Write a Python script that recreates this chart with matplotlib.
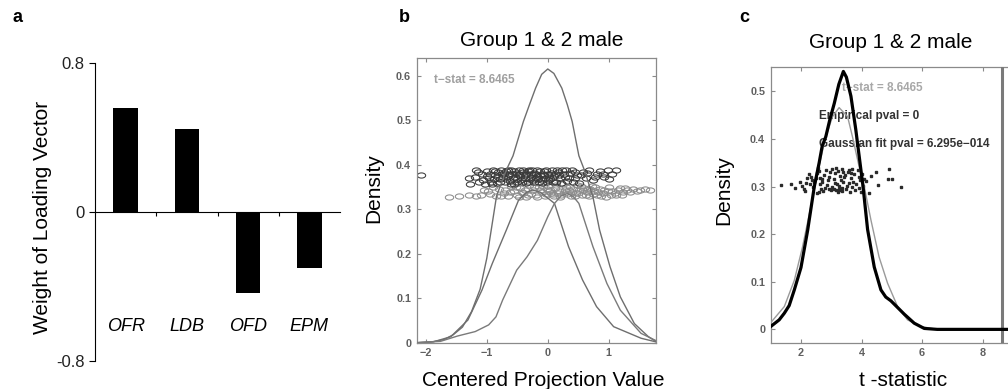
import numpy as np
import matplotlib.pyplot as plt
from matplotlib.path import Path

plt.rcParams['font.family'] = ['Liberation Sans', 'DejaVu Sans']

# ---- panel a data ----
categories = ['OFR', 'LDB', 'OFD', 'EPM']
loading = [0.558, 0.446, -0.435, -0.303]

# ---- panel b data (projection densities) ----
overall_x = [-2.15, -1.9, -1.7, -1.55, -1.4, -1.25, -1.11, -1.0, -0.84, -0.68, -0.57, -0.40, -0.3, -0.2,
             -0.1, 0.0, 0.1, 0.23, 0.32, 0.40, 0.51, 0.60, 0.74, 0.85, 1.02, 1.19, 1.42, 1.65, 1.77]
overall_y = [0.0, 0.002, 0.007, 0.018, 0.035, 0.07, 0.12, 0.19, 0.33, 0.388, 0.42, 0.497, 0.535, 0.572,
             0.603, 0.615, 0.605, 0.572, 0.535, 0.497, 0.42, 0.388, 0.328, 0.253, 0.171, 0.103, 0.043, 0.0135, 0.003]

group1_x = [-2.15, -1.875, -1.59, -1.31, -1.08, -0.91, -0.68, -0.48, -0.35, -0.25, -0.12, 0.11, 0.34, 0.57,
            0.80, 1.08, 1.53, 1.77]
group1_y = [0.0, 0.002, 0.0135, 0.051, 0.118, 0.178, 0.253, 0.32, 0.338, 0.343, 0.338, 0.313, 0.216, 0.141,
            0.081, 0.036, 0.01, 0.002]

group2_x = [-2.15, -1.76, -1.48, -1.19, -0.97, -0.85, -0.74, -0.51, -0.34, -0.17, 0.0, 0.11, 0.22, 0.32,
            0.42, 0.51, 0.74, 0.97, 1.19, 1.53, 1.77]
group2_y = [0.0, 0.003, 0.015, 0.025, 0.04, 0.058, 0.096, 0.163, 0.193, 0.23, 0.283, 0.313, 0.33, 0.335,
            0.328, 0.313, 0.216, 0.133, 0.073, 0.021, 0.005]

group1_pts = [(-2.08, 0.376), (-1.30, 0.369), (-1.27, 0.357), (-1.18, 0.388), (-1.12, 0.362), (-1.08, 0.378),
              (-1.03, 0.356), (-0.99, 0.386), (-0.96, 0.370), (-0.93, 0.361), (-0.90, 0.389), (-0.87, 0.376),
              (-0.84, 0.358), (-0.81, 0.383), (-0.78, 0.367), (-0.76, 0.389), (-0.73, 0.372), (-0.70, 0.360),
              (-0.68, 0.385), (-0.65, 0.375), (-0.62, 0.364), (-0.60, 0.388), (-0.57, 0.370), (-0.55, 0.357),
              (-0.52, 0.381), (-0.50, 0.367), (-0.47, 0.388), (-0.45, 0.374), (-0.42, 0.361), (-0.40, 0.384),
              (-0.37, 0.369), (-0.35, 0.379), (-0.32, 0.362), (-0.30, 0.387), (-0.27, 0.372), (-0.25, 0.365),
              (-0.22, 0.382), (-0.20, 0.370), (-0.17, 0.389), (-0.15, 0.360), (-0.12, 0.377), (-0.10, 0.366),
              (-0.07, 0.385), (-0.05, 0.371), (-0.02, 0.362), (0.01, 0.380), (0.04, 0.368), (0.07, 0.388),
              (0.10, 0.374), (0.13, 0.360), (0.16, 0.383), (0.20, 0.369), (0.24, 0.387), (0.28, 0.372),
              (0.32, 0.363), (0.36, 0.381), (0.40, 0.388), (0.44, 0.369), (0.48, 0.377), (0.52, 0.359),
              (0.57, 0.384), (0.62, 0.371), (0.68, 0.389), (0.74, 0.365), (0.80, 0.380), (0.86, 0.386),
              (0.92, 0.372), (0.98, 0.388), (1.05, 0.378), (1.12, 0.387), (-0.88, 0.368), (-0.63, 0.379),
              (-0.38, 0.376), (-0.18, 0.374), (0.02, 0.374), (-0.53, 0.373), (-0.28, 0.380), (-0.08, 0.379),
              (0.18, 0.376), (-0.72, 0.381), (0.45, 0.384),
              (-1.20, 0.372), (-1.14, 0.383), (-1.06, 0.366), (-1.00, 0.375), (-0.95, 0.380), (-0.91, 0.357),
              (-0.86, 0.385), (-0.82, 0.372), (-0.79, 0.360), (-0.75, 0.378), (-0.69, 0.368), (-0.66, 0.388),
              (-0.61, 0.357), (-0.58, 0.380), (-0.56, 0.386), (-0.51, 0.361), (-0.48, 0.378), (-0.44, 0.366),
              (-0.41, 0.389), (-0.36, 0.358), (-0.33, 0.386), (-0.29, 0.368), (-0.26, 0.389), (-0.23, 0.361),
              (-0.19, 0.380), (-0.16, 0.368), (-0.13, 0.386), (-0.09, 0.358), (-0.06, 0.376), (-0.03, 0.389),
              (0.00, 0.366), (0.05, 0.382), (0.08, 0.361), (0.12, 0.378), (0.15, 0.389), (0.22, 0.358),
              (0.26, 0.379), (0.30, 0.389), (0.34, 0.371), (0.42, 0.361), (0.55, 0.376), (0.65, 0.382),
              (0.77, 0.373), (0.90, 0.380), (1.00, 0.368)]

group2_pts = [(-1.62, 0.328), (-1.45, 0.330), (-1.30, 0.331), (-1.18, 0.329), (-1.05, 0.343), (-0.95, 0.334),
              (-0.85, 0.330), (-0.80, 0.346), (-0.72, 0.336), (-0.65, 0.329), (-0.60, 0.352), (-0.55, 0.340),
              (-0.50, 0.331), (-0.45, 0.347), (-0.40, 0.336), (-0.35, 0.328), (-0.30, 0.355), (-0.25, 0.342),
              (-0.20, 0.332), (-0.15, 0.349), (-0.10, 0.338), (-0.05, 0.329), (0.00, 0.353), (0.04, 0.343),
              (0.08, 0.333), (0.12, 0.348), (0.16, 0.337), (0.20, 0.328), (0.24, 0.356), (0.28, 0.344),
              (0.32, 0.333), (0.36, 0.350), (0.40, 0.339), (0.44, 0.329), (0.48, 0.354), (0.52, 0.343),
              (0.56, 0.332), (0.60, 0.348), (0.64, 0.338), (0.68, 0.329), (0.72, 0.352), (0.76, 0.341),
              (0.80, 0.331), (0.85, 0.346), (0.90, 0.336), (0.95, 0.328), (1.00, 0.350), (1.06, 0.340),
              (1.12, 0.331), (1.18, 0.347), (1.24, 0.338), (1.30, 0.344), (1.40, 0.345), (1.52, 0.343),
              (1.68, 0.343), (-0.42, 0.338), (-0.12, 0.344), (0.18, 0.341), (0.46, 0.336), (0.70, 0.345),
              (-0.28, 0.334), (0.05, 0.337), (0.34, 0.342), (0.58, 0.344), (-0.70, 0.342), (0.92, 0.342),
              (1.10, 0.336), (-0.02, 0.346), (0.26, 0.336),
              (-1.10, 0.332), (-0.98, 0.340), (-0.90, 0.349), (-0.77, 0.329), (-0.62, 0.338), (-0.52, 0.350),
              (-0.47, 0.328), (-0.37, 0.344), (-0.32, 0.331), (-0.22, 0.349), (-0.18, 0.328), (-0.08, 0.352),
              (-0.03, 0.333), (0.02, 0.340), (0.10, 0.329), (0.14, 0.355), (0.22, 0.332), (0.30, 0.350),
              (0.38, 0.330), (0.42, 0.346), (0.50, 0.336), (0.54, 0.352), (0.62, 0.331), (0.66, 0.346),
              (0.74, 0.334), (0.78, 0.350), (0.83, 0.338), (0.88, 0.329), (0.98, 0.340), (1.03, 0.332),
              (1.15, 0.343), (1.21, 0.331), (1.27, 0.348), (1.35, 0.338), (1.46, 0.340), (1.60, 0.346)]

# ---- panel c data (permutation t-statistics) ----
kde_x = [1.0, 1.28, 1.45, 1.61, 1.78, 2.0, 2.22, 2.44, 2.6, 2.7, 2.82, 2.95, 3.1, 3.25, 3.4, 3.5, 3.65,
         3.81, 3.95, 4.05, 4.2, 4.42, 4.64, 4.80, 4.97, 5.19, 5.41, 5.74, 6.07, 6.5, 9.3]
kde_y = [0.006, 0.02, 0.034, 0.05, 0.083, 0.13, 0.208, 0.30, 0.35, 0.385, 0.405, 0.44, 0.475, 0.515, 0.542,
         0.53, 0.49, 0.42, 0.35, 0.30, 0.21, 0.131, 0.083, 0.068, 0.060, 0.046, 0.032, 0.013, 0.002, 0.0, 0.0]

gauss_x = [1.0, 1.45, 1.78, 2.05, 2.3, 2.55, 2.8, 3.04, 3.26, 3.54, 3.70, 3.92, 4.09, 4.31, 4.58, 4.86,
           5.19, 5.52, 5.96, 6.5, 7.0]
gauss_y = [0.014, 0.048, 0.103, 0.173, 0.25, 0.33, 0.40, 0.447, 0.466, 0.447, 0.405, 0.342, 0.30, 0.23,
           0.152, 0.097, 0.048, 0.02, 0.006, 0.0, 0.0]

perm_pts = [(1.34, 0.303), (1.67, 0.305), (1.97, 0.310), (2.05, 0.301), (2.11, 0.296), (2.16, 0.307),
            (2.25, 0.326), (2.33, 0.321), (2.36, 0.314), (2.44, 0.310), (2.52, 0.328), (2.52, 0.287),
            (2.58, 0.289), (2.63, 0.305), (2.66, 0.296), (2.71, 0.317), (2.74, 0.291), (2.77, 0.324),
            (2.82, 0.335), (2.85, 0.303), (2.91, 0.321), (2.93, 0.294), (3.04, 0.300), (3.13, 0.328),
            (3.18, 0.305), (3.21, 0.289), (3.26, 0.296), (3.32, 0.314), (3.37, 0.338), (3.43, 0.321),
            (3.46, 0.324), (3.51, 0.301), (3.57, 0.335), (3.59, 0.307), (3.62, 0.289), (3.65, 0.328),
            (3.70, 0.338), (3.73, 0.310), (3.79, 0.293), (3.87, 0.335), (3.92, 0.321), (3.95, 0.314),
            (3.98, 0.289), (4.09, 0.317), (4.14, 0.312), (4.25, 0.287), (4.47, 0.331), (4.53, 0.303),
            (4.91, 0.337), (4.89, 0.317), (4.99, 0.317), (5.30, 0.300), (2.40, 0.300), (2.48, 0.318),
            (2.60, 0.332), (2.68, 0.310), (2.80, 0.298), (2.88, 0.313), (2.96, 0.330), (3.00, 0.292),
            (3.08, 0.316), (3.10, 0.296), (3.16, 0.293), (3.22, 0.333), (3.24, 0.302), (3.28, 0.292),
            (3.30, 0.322), (3.34, 0.297), (3.40, 0.309), (3.48, 0.295), (3.54, 0.331), (3.66, 0.318),
            (3.76, 0.327), (3.83, 0.305), (3.90, 0.297), (4.02, 0.326), (4.05, 0.301), (2.30, 0.305),
            (2.20, 0.318), (2.57, 0.340), (3.15, 0.340), (3.38, 0.330), (3.02, 0.336), (2.14, 0.291),
            (2.62, 0.318), (3.12, 0.308), (3.35, 0.291), (3.68, 0.299), (4.30, 0.322), (1.80, 0.298)]
t_stat = 8.6465

W, H = 1008, 389


def px_rect(left, top, right, bottom):
    return [left / W, 1 - bottom / H, (right - left) / W, (bottom - top) / H]


def matlab_style(ax, xticks, yticks, xlabels, ylabels):
    for s in ax.spines.values():
        s.set_color('#8a8a8a')
        s.set_linewidth(0.9)
    ax.tick_params(direction='in', top=True, right=True, length=3, width=0.8,
                   color='#8a8a8a', labelcolor='#606060', labelsize=7.8, pad=4)
    ax.set_xticks(xticks)
    ax.set_xticklabels(xlabels, fontweight='bold')
    ax.set_yticks(yticks)
    ax.set_yticklabels(ylabels, fontweight='bold')


fig = plt.figure(figsize=(W / 100, H / 100), dpi=100)

# ---------------- panel a ----------------
ax_a = fig.add_axes(px_rect(95, 63, 340, 361))
ax_a.bar(range(len(categories)), loading, width=0.4, color='black')
ax_a.set_xlim(-0.5, 3.5)
ax_a.set_ylim(-0.8, 0.8)
ax_a.spines['top'].set_visible(False)
ax_a.spines['right'].set_visible(False)
ax_a.spines['bottom'].set_position(('data', 0))
ax_a.set_xticks([0.5, 1.5, 2.5])
ax_a.set_xticklabels([])
ax_a.tick_params(axis='x', direction='out', length=3)
ax_a.set_yticks([-0.8, 0, 0.8])
ax_a.set_yticklabels(['-0.8', '0', '0.8'], fontsize=12, color='#222222')
ax_a.tick_params(axis='y', direction='out', length=4)
for i, cat in enumerate(categories):
    ax_a.text(i, -0.617, cat, style='italic', fontsize=13, ha='center', va='center')
fig.text(42.5 / W, 1 - 217 / H, 'Weight of Loading Vector', rotation=90, fontsize=15,
         ha='center', va='center')

# ---------------- panel b ----------------
ellipse = Path(np.column_stack([np.cos(np.linspace(0, 2 * np.pi, 40)),
                                0.62 * np.sin(np.linspace(0, 2 * np.pi, 40))]), closed=True)
ax_b = fig.add_axes(px_rect(416.7, 58.3, 655.7, 342.7))
g1 = np.array(group1_pts)
g2 = np.array(group2_pts)
ax_b.plot(g2[:, 0], g2[:, 1], linestyle='none', marker=ellipse, ms=6, mfc='none',
          mec='#8c8c8c', mew=0.75, zorder=2)
ax_b.plot(g1[:, 0], g1[:, 1], linestyle='none', marker=ellipse, ms=6, mfc='none',
          mec='#3a3a3a', mew=0.75, zorder=2)
ax_b.plot(overall_x, overall_y, color='#6e6e6e', lw=1.0, zorder=3)
ax_b.plot(group1_x, group1_y, color='#6e6e6e', lw=1.0, zorder=3)
ax_b.plot(group2_x, group2_y, color='#7a7a7a', lw=1.0, zorder=3)
ax_b.text(-1.87, 0.59, 't\u2212stat = 8.6465', color='#a0a0a0', fontsize=8.5, fontweight='bold',
          va='center', zorder=1)
ax_b.set_xlim(-2.15, 1.77)
ax_b.set_ylim(0, 0.639)
matlab_style(ax_b, [-2, -1, 0, 1], [0, 0.1, 0.2, 0.3, 0.4, 0.5, 0.6],
             ['\u22122', '\u22121', '0', '1'], ['0', '0.1', '0.2', '0.3', '0.4', '0.5', '0.6'])
fig.text(542 / W, 1 - 40 / H, 'Group 1 & 2 male', fontsize=15, ha='center', va='center')
fig.text(374 / W, 1 - 188 / H, 'Density', rotation=90, fontsize=15, ha='center', va='center')
fig.text(543 / W, 1 - 380 / H, 'Centered Projection Value', fontsize=15, ha='center', va='center')

# ---------------- panel c ----------------
ax_c = fig.add_axes(px_rect(770.7, 66.7, 1022, 342.7))
pp = np.array(perm_pts)
ax_c.plot(pp[:, 0], pp[:, 1], linestyle='none', marker='s', ms=1.9, color='#2a2a2a', zorder=2)
ax_c.plot(gauss_x, gauss_y, color='#9a9a9a', lw=1.0, zorder=3)
ax_c.plot(kde_x, kde_y, color='black', lw=2.3, zorder=4)
ax_c.axvline(t_stat, color='#7a7a7a', lw=2.2, zorder=3)
ax_c.text(3.37, 0.508, 't\u2212stat = 8.6465', color='#a8a8a8', fontsize=8.5, fontweight='bold',
          va='center', zorder=1)
ax_c.text(2.60, 0.448, 'Empirical pval = 0', color='#333333', fontsize=8.5, fontweight='bold',
          va='center', zorder=1)
ax_c.text(2.60, 0.389, 'Gaussian fit pval = 6.295e\u2212014', color='#333333', fontsize=8.5,
          fontweight='bold', va='center', zorder=1)
ax_c.set_xlim(1.0, 9.3)
ax_c.set_ylim(-0.028, 0.552)
matlab_style(ax_c, [2, 4, 6, 8], [0, 0.1, 0.2, 0.3, 0.4, 0.5],
             ['2', '4', '6', '8'], ['0', '0.1', '0.2', '0.3', '0.4', '0.5'])
fig.text(891 / W, 1 - 42 / H, 'Group 1 & 2 male', fontsize=15, ha='center', va='center')
fig.text(724 / W, 1 - 190 / H, 'Density', rotation=90, fontsize=15, ha='center', va='center')
fig.text(903 / W, 1 - 380 / H, 't -statistic', fontsize=15, ha='center', va='center')

# panel letters
fig.text(17.5 / W, 1 - 18 / H, 'a', fontsize=13, fontweight='bold', ha='center', va='center')
fig.text(404 / W, 1 - 17.5 / H, 'b', fontsize=13, fontweight='bold', ha='center', va='center')
fig.text(744.5 / W, 1 - 17.5 / H, 'c', fontsize=13, fontweight='bold', ha='center', va='center')

fig.savefig('out.png', dpi=100)
